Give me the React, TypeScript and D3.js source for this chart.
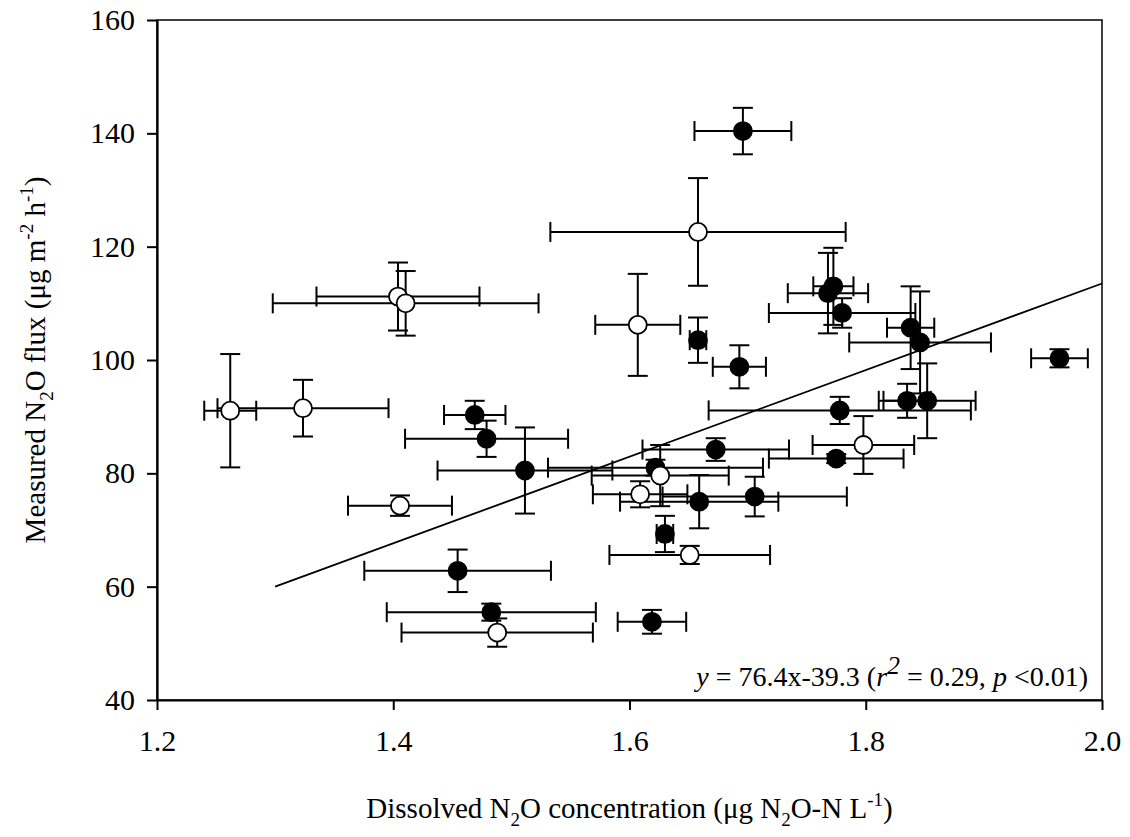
import React, { useEffect, useRef } from 'react';
import * as d3 from 'd3';

// filled symbols
const filledX = [1.696, 1.7726, 1.768, 1.78, 1.838, 1.658, 1.846, 1.964, 1.693, 1.835, 1.852, 1.778, 1.469, 1.479, 1.673, 1.775, 1.622, 1.5115, 1.706, 1.659, 1.63, 1.4545, 1.483, 1.619];
const filledY = [140.4, 113.0, 111.8, 108.3, 105.7, 103.5, 103.1, 100.3, 98.8, 92.8, 92.8, 91.1, 90.3, 86.1, 84.2, 82.6, 81.0, 80.5, 75.9, 75.0, 69.3, 62.8, 55.5, 53.8];
const filledXErr = [0.041, 0.017, 0.034, 0.062, 0.02, 0.007, 0.06, 0.024, 0.0225, 0.02, 0.041, 0.111, 0.026, 0.069, 0.062, 0.057, 0.091, 0.074, 0.078, 0.067, 0.007, 0.079, 0.0885, 0.029];
const filledYErr = [4.1, 6.8, 7.1, 2.6, 7.3, 4.0, 9.0, 1.6, 3.8, 3.0, 6.6, 2.4, 2.5, 3.2, 2.0, 0.8, 1.4, 7.6, 3.5, 4.7, 3.2, 3.75, 1.5, 2.1];

// open symbols
const openX = [1.658, 1.404, 1.4105, 1.607, 1.262, 1.3236, 1.798, 1.626, 1.609, 1.4057, 1.651, 1.488];
const openY = [122.6, 111.2, 110.0, 106.2, 91.05, 91.5, 85.0, 79.6, 76.3, 74.3, 65.6, 51.9];
const openXErr = [0.125, 0.069, 0.1125, 0.036, 0.022, 0.0724, 0.043, 0.058, 0.04, 0.044, 0.068, 0.081];
const openYErr = [9.5, 6.0, 5.7, 9.0, 10.0, 5.0, 5.1, 5.4, 2.3, 1.8, 1.6, 2.5];

const xTicks = [1.2, 1.4, 1.6, 1.8, 2.0];
const yTicks = [40, 60, 80, 100, 120, 140, 160];

// regression y = 76.4x - 39.3
const slope = 76.4;
const intercept = -39.3;
const fitRange = [1.3, 2.0];

function App() {
  const ref = useRef(null);

  useEffect(() => {
    const root = d3.select(ref.current);
    root.selectAll('*').remove();

    const svg = root.append('svg')
      .attr('width', 1130)
      .attr('height', 837)
      .style('position', 'absolute')
      .style('left', 0)
      .style('top', 0)
      .style('font-family', '"Liberation Serif", "Times New Roman", serif');

    const margin = { top: 20, right: 28, bottom: 137, left: 157 };
    const width = 1130 - margin.left - margin.right;
    const height = 837 - margin.top - margin.bottom;
    const g = svg.append('g')
      .attr('transform', `translate(${margin.left},${margin.top})`);

    const x = d3.scaleLinear().domain([1.2, 2.0]).range([0, width]);
    const y = d3.scaleLinear().domain([40, 160]).range([height, 0]);

    // frame (top and right)
    g.append('rect')
      .attr('x', 0).attr('y', 0)
      .attr('width', width).attr('height', height)
      .attr('fill', 'none')
      .attr('stroke', '#000')
      .attr('stroke-width', 1.5);

    const xAxis = g.append('g')
      .attr('transform', `translate(0,${height})`)
      .call(d3.axisBottom(x).tickValues(xTicks).tickFormat(d3.format('.1f')).tickSize(10).tickSizeOuter(0));
    xAxis.select('.domain').attr('stroke-width', 2.2);
    xAxis.selectAll('line').attr('stroke-width', 2);
    xAxis.selectAll('text')
      .attr('font-size', '30px')
      .attr('font-family', '"Liberation Serif", serif')
      .attr('dy', '1.25em');

    const yAxis = g.append('g')
      .call(d3.axisLeft(y).tickValues(yTicks).tickSize(10).tickSizeOuter(0));
    yAxis.select('.domain').attr('stroke-width', 2.2);
    yAxis.selectAll('line').attr('stroke-width', 2);
    yAxis.selectAll('text')
      .attr('font-size', '30px')
      .attr('font-family', '"Liberation Serif", serif')
      .attr('x', -22);

    // regression line
    g.append('line')
      .attr('x1', x(fitRange[0]))
      .attr('y1', y(slope * fitRange[0] + intercept))
      .attr('x2', x(fitRange[1]))
      .attr('y2', y(slope * fitRange[1] + intercept))
      .attr('stroke', '#000')
      .attr('stroke-width', 1.8);

    const points = [
      ...filledX.map((v, i) => ({ x: v, y: filledY[i], xe: filledXErr[i], ye: filledYErr[i], open: false })),
      ...openX.map((v, i) => ({ x: v, y: openY[i], xe: openXErr[i], ye: openYErr[i], open: true })),
    ];

    const cap = 10;
    const bars = g.append('g').attr('stroke', '#000').attr('stroke-width', 2);
    points.forEach(d => {
      const cx = x(d.x);
      const cy = y(d.y);
      const x0 = x(d.x - d.xe);
      const x1 = x(d.x + d.xe);
      const y0 = y(d.y - d.ye);
      const y1 = y(d.y + d.ye);
      bars.append('line').attr('x1', x0).attr('x2', x1).attr('y1', cy).attr('y2', cy);
      bars.append('line').attr('x1', x0).attr('x2', x0).attr('y1', cy - cap).attr('y2', cy + cap);
      bars.append('line').attr('x1', x1).attr('x2', x1).attr('y1', cy - cap).attr('y2', cy + cap);
      bars.append('line').attr('x1', cx).attr('x2', cx).attr('y1', y0).attr('y2', y1);
      bars.append('line').attr('x1', cx - cap).attr('x2', cx + cap).attr('y1', y0).attr('y2', y0);
      bars.append('line').attr('x1', cx - cap).attr('x2', cx + cap).attr('y1', y1).attr('y2', y1);
    });

    g.selectAll('circle.pt')
      .data(points)
      .enter()
      .append('circle')
      .attr('class', 'pt')
      .attr('cx', d => x(d.x))
      .attr('cy', d => y(d.y))
      .attr('r', 9)
      .attr('fill', d => (d.open ? '#fff' : '#000'))
      .attr('stroke', '#000')
      .attr('stroke-width', 1.8);

    // equation
    const eq = g.append('text')
      .attr('x', width - 14)
      .attr('y', height - 14)
      .attr('text-anchor', 'end')
      .attr('font-size', '28px');
    eq.append('tspan').attr('font-style', 'italic').text('y');
    eq.append('tspan').text(' = 76.4x-39.3 (');
    eq.append('tspan').attr('font-style', 'italic').text('r');
    eq.append('tspan').attr('font-style', 'italic').attr('dy', -12).attr('font-size', '26px').text('2');
    eq.append('tspan').attr('dy', 12).text(' = 0.29, ');
    eq.append('tspan').attr('font-style', 'italic').text('p');
    eq.append('tspan').text(' <0.01)');

    // x axis label
    const xl = g.append('text')
      .attr('x', width / 2)
      .attr('y', height + 118)
      .attr('text-anchor', 'middle')
      .attr('font-size', '29px');
    xl.append('tspan').text('Dissolved N');
    xl.append('tspan').attr('dy', 8).attr('font-size', '19px').text('2');
    xl.append('tspan').attr('dy', -8).text('O concentration (μg N');
    xl.append('tspan').attr('dy', 8).attr('font-size', '19px').text('2');
    xl.append('tspan').attr('dy', -8).text('O-N L');
    xl.append('tspan').attr('dy', -12).attr('font-size', '19px').text('-1');
    xl.append('tspan').attr('dy', 12).text(')');

    // y axis label
    const yl = g.append('text')
      .attr('transform', `translate(${-112},${height / 2}) rotate(-90)`)
      .attr('text-anchor', 'middle')
      .attr('font-size', '29px');
    yl.append('tspan').text('Measured N');
    yl.append('tspan').attr('dy', 8).attr('font-size', '19px').text('2');
    yl.append('tspan').attr('dy', -8).text('O flux (μg m');
    yl.append('tspan').attr('dy', -12).attr('font-size', '19px').text('-2');
    yl.append('tspan').attr('dy', 12).text(' h');
    yl.append('tspan').attr('dy', -12).attr('font-size', '19px').text('-1');
    yl.append('tspan').attr('dy', 12).text(')');
  }, []);

  return <div ref={ref} style={{ width: 1130, height: 837 }}></div>;
}

export default App;
